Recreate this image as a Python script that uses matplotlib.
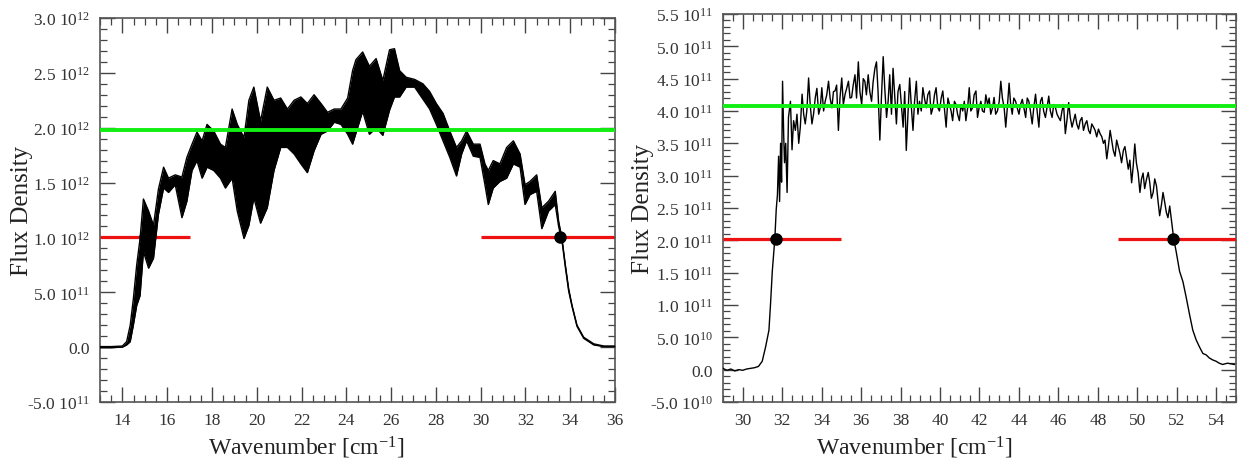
import numpy as np
import matplotlib
matplotlib.use('Agg')
import matplotlib.pyplot as plt
from matplotlib.ticker import MultipleLocator, FuncFormatter

plt.rcParams['font.family'] = 'Liberation Serif'
plt.rcParams['mathtext.fontset'] = 'custom'
plt.rcParams['mathtext.rm'] = 'Liberation Serif'
plt.rcParams['mathtext.it'] = 'Liberation Serif:italic'

# left panel: fringed spectrum, upper / lower envelope (units of 1e12)
left_wn = [13.0, 13.5, 14.0, 14.19, 14.35, 14.49, 14.64, 14.79, 14.94, 15.17,
           15.39, 15.61, 15.84, 16.06, 16.36, 16.66, 16.88, 17.11, 17.33, 17.56,
           17.78, 18.08, 18.38, 18.60, 18.90, 19.13, 19.43, 19.65, 19.87, 20.17,
           20.47, 20.77, 21.07, 21.37, 21.67, 21.97, 22.26, 22.56, 22.87, 23.16,
           23.46, 23.76, 24.06, 24.28, 24.43, 24.73, 25.03, 25.33, 25.63, 25.93,
           26.15, 26.38, 26.67, 27.05, 27.42, 27.72, 28.02, 28.32, 28.62, 28.92,
           29.15, 29.37, 29.67, 29.97, 30.19, 30.34, 30.56, 30.86, 31.16, 31.46,
           31.76, 31.98, 32.20, 32.50, 32.73, 33.03, 33.33, 33.48, 33.63, 33.78,
           33.93, 34.08, 34.30, 34.60, 35.05, 35.50, 36.0]
left_hi = [0.005, 0.005, 0.01, 0.05, 0.20, 0.44, 0.75, 0.99, 1.35, 1.24,
           1.11, 1.44, 1.64, 1.54, 1.57, 1.55, 1.73, 1.85, 1.96, 1.88,
           2.03, 1.97, 1.85, 1.82, 2.17, 2.03, 1.91, 2.25, 2.37, 2.06,
           2.37, 2.25, 2.27, 2.17, 2.25, 2.28, 2.22, 2.30, 2.22, 2.14,
           2.17, 2.17, 2.27, 2.52, 2.62, 2.69, 2.56, 2.63, 2.43, 2.71,
           2.72, 2.52, 2.46, 2.44, 2.40, 2.33, 2.22, 2.13, 1.97, 1.82,
           1.88, 1.97, 1.85, 1.85, 1.67, 1.61, 1.70, 1.67, 1.82, 1.88,
           1.76, 1.48, 1.51, 1.57, 1.27, 1.33, 1.42, 1.15, 0.99, 0.75,
           0.53, 0.38, 0.20, 0.09, 0.03, 0.01, 0.01]
left_lo = [-0.005, -0.005, 0.0, 0.02, 0.05, 0.20, 0.38, 0.47, 0.87, 0.72,
           0.81, 1.21, 1.45, 1.41, 1.48, 1.18, 1.33, 1.61, 1.70, 1.54,
           1.64, 1.61, 1.54, 1.45, 1.54, 1.24, 0.99, 1.11, 1.36, 1.13,
           1.27, 1.61, 1.82, 1.82, 1.76, 1.67, 1.59, 1.79, 1.94, 1.97,
           2.05, 2.03, 1.94, 1.85, 1.95, 2.15, 1.94, 2.00, 1.93, 2.16,
           2.28, 2.28, 2.37, 2.37, 2.26, 2.17, 2.03, 1.88, 1.73, 1.56,
           1.76, 1.88, 1.74, 1.73, 1.48, 1.30, 1.45, 1.51, 1.54, 1.67,
           1.64, 1.30, 1.39, 1.42, 1.08, 1.24, 1.30, 1.10, 0.97, 0.73,
           0.51, 0.37, 0.19, 0.08, 0.02, 0.005, 0.005]
left_green = 1.98e12
left_red = 1.0e12
left_red_spans = [(13, 17), (30, 36)]
left_dots = [15.0, 33.56]

# right panel: noisy spectrum (units of 1e11)
right_wn = [29.0, 29.2, 29.4, 29.6, 29.8, 30.0, 30.2, 30.4, 30.6, 30.8,
            30.99, 31.16, 31.33, 31.41, 31.50, 31.63, 31.70, 31.76, 31.82, 31.87,
            31.92, 31.97, 32.02, 32.08, 32.12, 32.18, 32.25, 32.32, 32.42, 32.50,
            32.58, 32.67, 32.75, 32.84, 32.92, 33.01, 33.09, 33.17, 33.25, 33.34,
            33.42, 33.51, 33.59, 33.68, 33.76, 33.85, 33.93, 34.01, 34.10, 34.18,
            34.26, 34.35, 34.43, 34.52, 34.60, 34.68, 34.76, 34.85, 34.93, 35.02,
            35.10, 35.19, 35.27, 35.36, 35.44, 35.52, 35.60, 35.69, 35.77, 35.86,
            35.94, 36.03, 36.11, 36.19, 36.27, 36.36, 36.44, 36.53, 36.61, 36.70,
            36.78, 36.86, 36.95, 37.03, 37.12, 37.20, 37.29, 37.37, 37.45, 37.54,
            37.62, 37.70, 37.79, 37.87, 37.96, 38.04, 38.13, 38.21, 38.29, 38.38,
            38.46, 38.55, 38.63, 38.71, 38.80, 38.88, 38.96, 39.05, 39.13, 39.21,
            39.30, 39.38, 39.47, 39.55, 39.64, 39.72, 39.80, 39.89, 39.97, 40.06,
            40.14, 40.22, 40.31, 40.40, 40.48, 40.56, 40.64, 40.73, 40.81, 40.89,
            40.98, 41.06, 41.15, 41.23, 41.31, 41.40, 41.48, 41.56, 41.65, 41.73,
            41.82, 41.90, 41.98, 42.07, 42.15, 42.24, 42.32, 42.41, 42.49, 42.57,
            42.66, 42.74, 42.82, 42.91, 43.00, 43.08, 43.16, 43.25, 43.33, 43.41,
            43.50, 43.58, 43.66, 43.74, 43.83, 43.91, 44.00, 44.08, 44.17, 44.25,
            44.34, 44.42, 44.50, 44.58, 44.67, 44.75, 44.84, 44.92, 45.01, 45.09,
            45.17, 45.25, 45.34, 45.42, 45.51, 45.59, 45.68, 45.76, 45.85, 45.93,
            46.01, 46.10, 46.18, 46.26, 46.35, 46.43, 46.52, 46.60, 46.69, 46.77,
            46.85, 46.93, 47.02, 47.10, 47.19, 47.27, 47.36, 47.44, 47.53, 47.61,
            47.69, 47.78, 47.86, 47.94, 48.03, 48.11, 48.20, 48.28, 48.36, 48.45,
            48.53, 48.62, 48.70, 48.78, 48.87, 48.95, 49.03, 49.12, 49.20, 49.29,
            49.37, 49.45, 49.54, 49.62, 49.71, 49.79, 49.87, 49.95, 50.04, 50.13,
            50.21, 50.29, 50.37, 50.46, 50.55, 50.63, 50.71, 50.80, 50.88, 50.97,
            51.05, 51.13, 51.22, 51.30, 51.38, 51.47, 51.55, 51.64, 51.72, 51.84,
            51.97, 52.14, 52.31, 52.48, 52.64, 52.81, 52.98, 53.15, 53.32, 53.48,
            53.65, 53.82, 53.99, 54.15, 54.32, 54.57, 54.91]
right_flux = [0.02, -0.01, 0.01, -0.02, 0.0, -0.01, 0.01, 0.02, 0.03, 0.05,
              0.13, 0.35, 0.61, 1.01, 1.52, 2.03, 2.48, 2.70, 3.30, 2.60,
              3.50, 2.90, 4.46, 3.60, 3.20, 3.50, 2.74, 3.90, 4.15, 3.40,
              3.85, 3.70, 3.95, 3.50, 3.75, 4.26, 3.95, 3.80, 4.00, 4.51,
              4.10, 3.80, 3.95, 4.21, 4.35, 3.95, 4.05, 4.36, 4.00, 4.15,
              4.25, 4.46, 4.20, 4.05, 4.30, 4.31, 4.40, 3.70, 4.20, 4.51,
              4.10, 4.26, 4.35, 4.46, 4.20, 4.21, 4.40, 4.56, 4.20, 4.76,
              4.30, 4.10, 4.50, 4.46, 4.25, 4.56, 4.30, 4.15, 4.45, 4.66,
              4.76, 4.30, 3.55, 4.20, 4.84, 4.35, 3.90, 4.15, 4.56, 3.95,
              4.66, 4.25, 3.80, 4.30, 4.41, 4.10, 3.75, 4.30, 3.39, 4.00,
              4.51, 4.05, 3.70, 4.15, 4.46, 3.95, 4.15, 4.00, 4.36, 4.20,
              4.05, 4.25, 4.31, 3.95, 4.05, 4.25, 4.36, 4.05, 4.00, 4.20,
              4.31, 4.05, 3.75, 4.20, 4.10, 4.00, 3.85, 4.15, 4.10, 3.95,
              3.85, 4.10, 4.00, 4.15, 3.85, 4.05, 4.36, 4.00, 4.05, 4.25,
              4.31, 3.90, 4.05, 4.15, 4.00, 3.98, 4.25, 4.10, 4.20, 3.95,
              4.05, 4.21, 3.95, 4.00, 4.15, 4.46, 4.20, 4.05, 3.75, 4.05,
              4.43, 4.10, 3.95, 4.20, 4.15, 4.05, 3.95, 4.10, 4.18, 4.05,
              3.90, 4.20, 4.15, 4.00, 3.80, 4.05, 4.26, 4.00, 3.75, 4.15,
              4.21, 4.00, 3.90, 4.05, 4.23, 4.00, 3.90, 4.10, 4.05, 3.95,
              3.90, 3.85, 4.00, 4.10, 3.65, 3.85, 4.13, 3.90, 3.75, 3.85,
              3.95, 3.80, 3.72, 3.85, 3.90, 3.70, 3.80, 3.85, 3.70, 3.65,
              3.80, 3.75, 3.70, 3.60, 3.72, 3.65, 3.60, 3.50, 3.55, 3.26,
              3.45, 3.70, 3.55, 3.39, 3.30, 3.55, 3.45, 3.34, 3.20, 3.39,
              3.45, 3.29, 3.10, 3.24, 2.89, 3.15, 3.49, 3.20, 3.04, 2.74,
              2.95, 3.04, 2.80, 2.94, 3.05, 2.89, 2.65, 2.74, 2.95, 2.84,
              2.60, 2.38, 2.55, 2.74, 2.60, 2.43, 2.35, 2.53, 2.33, 2.03,
              1.82, 1.52, 1.36, 1.11, 0.86, 0.61, 0.46, 0.35, 0.25, 0.23,
              0.18, 0.15, 0.13, 0.10, 0.08, 0.10, 0.08]
right_green = 4.07e11
right_red = 2.02e11
right_red_spans = [(29, 35), (49, 55)]
right_dots = [31.68, 51.8]


def sci_label(v, pos):
    if abs(v) < 1e-6:
        return '0.0'
    e = int(np.floor(np.log10(abs(v)) + 1e-9))
    m = v / 10.0**e
    return '%.1f 10$^{%d}$' % (m, e)


def style_axes(ax, xlim, ylim, xmaj, ymaj, ymin):
    ax.set_xlim(*xlim)
    ax.set_ylim(*ylim)
    ax.xaxis.set_major_locator(MultipleLocator(xmaj))
    ax.xaxis.set_minor_locator(MultipleLocator(0.5))
    ax.yaxis.set_major_locator(MultipleLocator(ymaj))
    ax.yaxis.set_minor_locator(MultipleLocator(ymin))
    ax.yaxis.set_major_formatter(FuncFormatter(sci_label))
    ax.tick_params(which='both', direction='in', top=True, right=True,
                   colors='#444444', labelcolor='#333333', labelsize=12.5)
    ax.tick_params(which='major', length=11, width=1.0, pad=7)
    ax.tick_params(which='minor', length=5, width=0.9)
    for s in ax.spines.values():
        s.set_color('#555555')
        s.set_linewidth(1.2)
    ax.set_ylabel('Flux Density', fontsize=18, color='#222222', va='center')
    ax.set_xlabel('Wavenumber [cm$^{-1}$]', fontsize=17, color='#222222', va='center')


fig = plt.figure(figsize=(12.39, 4.64), dpi=100)
ax1 = fig.add_axes([0.0807, 0.1315, 0.4157, 0.8276])
ax2 = fig.add_axes([0.5835, 0.1315, 0.4141, 0.8362])

# left
lwn = np.array(left_wn)
lhi = np.array(left_hi) * 1e12
llo = np.array(left_lo) * 1e12
for a, b in left_red_spans:
    ax1.hlines(left_red, a, b, color='#ee1111', lw=2.3, zorder=2)
ax1.fill_between(lwn, llo, lhi, color='black', lw=0, zorder=3)
ax1.plot(lwn, lhi, color='black', lw=1.0, zorder=3)
ax1.plot(lwn, llo, color='black', lw=1.0, zorder=3)
ax1.axhline(left_green, color='#11ee11', lw=2.8, zorder=4)
ax1.plot(left_dots, [left_red] * len(left_dots), 'o', color='black', ms=8, zorder=5)
style_axes(ax1, (13, 36), (-5e11, 3.0e12), 2, 5e11, 1e11)
ax1.yaxis.set_label_coords(-0.151, 0.5)
ax1.xaxis.set_label_coords(0.40, -0.117)

# right
rwn = np.array(right_wn)
rfl = np.array(right_flux) * 1e11
ax2.plot(rwn, rfl, color='black', lw=1.0, zorder=3)
ax2.axhline(right_green, color='#11ee11', lw=2.8, zorder=4)
for a, b in right_red_spans:
    ax2.hlines(right_red, a, b, color='#ee1111', lw=2.3, zorder=4)
ax2.plot(right_dots, [right_red] * len(right_dots), 'o', color='black', ms=8, zorder=5)
style_axes(ax2, (29, 55), (-5e10, 5.5e11), 2, 5e10, 1e10)
ax2.yaxis.set_label_coords(-0.156, 0.5)
ax2.xaxis.set_label_coords(0.372, -0.117)

fig.savefig('out.png', dpi=100)
